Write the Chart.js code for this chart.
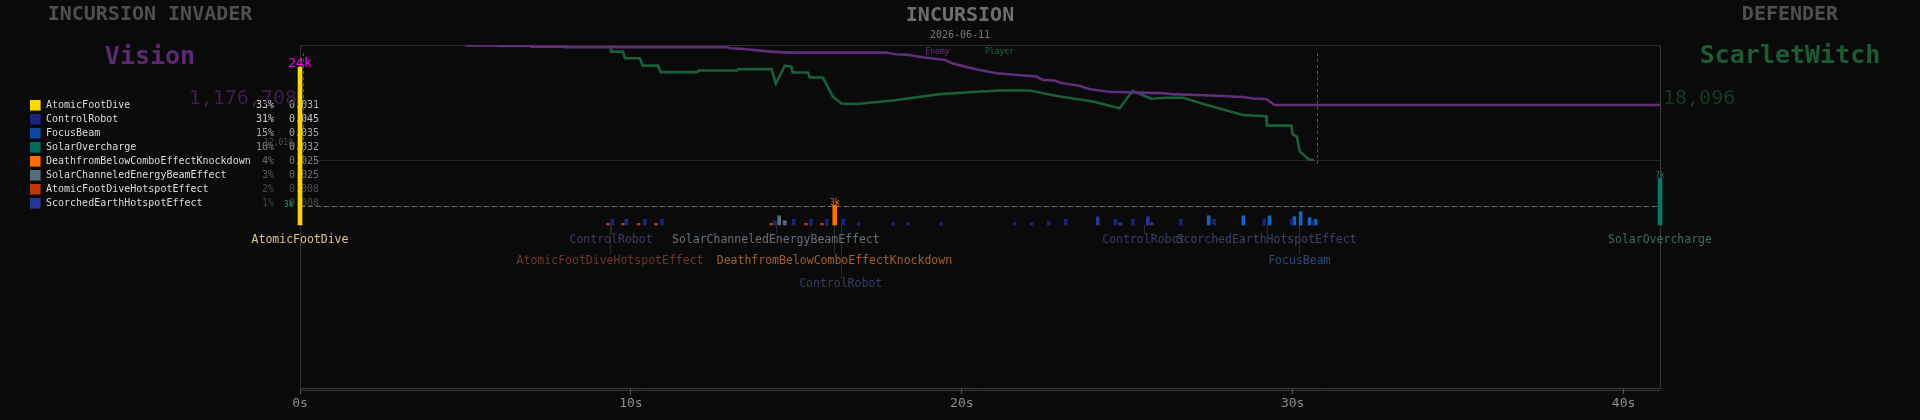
<!DOCTYPE html>
<html>
<head>
<meta charset="utf-8">
<title>Incursion</title>
<script src="https://cdn.jsdelivr.net/npm/chart.js@4.4.1/dist/chart.umd.min.js"></script>
<style>
  html, body { margin: 0; padding: 0; background: #0a0a0a; overflow: hidden; }
  #wrap { width: 1920px; height: 420px; }
</style>
</head>
<body>
<div id="wrap"><canvas id="fight" width="1920" height="420"></canvas></div>
<script>
const MONO = '"DejaVu Sans Mono", "Liberation Mono", monospace';

// health over time, percent of max
const enemyTimes = [5.0, 6.0, 6.0, 7.0, 7.0, 8.0, 8.0, 12.9, 13.0, 13.5, 13.9, 14.25, 14.8, 17.7, 18.0, 18.4, 18.8, 19.5, 19.7, 20.1, 20.5, 21.05, 22.25, 22.45, 22.8, 23.0, 23.55, 23.85, 24.45, 26.0, 26.35, 27.5, 28.5, 28.8, 29.2, 29.45, 41.1];
const enemyHp    = [100, 100, 99.6, 99.6, 99.0, 99.0, 98.4, 98.4, 97.6, 96.7, 95.5, 94.6, 93.8, 93.8, 92.4, 91.8, 89.8, 87.4, 84.6, 81.6, 78.8, 75.9, 73.0, 70.1, 69.5, 67.3, 64.9, 62.1, 59.7, 58.6, 57.7, 56.5, 55.2, 53.9, 53.4, 48.2, 48.2];

const playerTimes = [9.4, 9.4, 9.76, 9.82, 10.27, 10.36, 10.82, 10.9, 12.0, 12.05, 13.2, 13.25, 14.25, 14.38, 14.65, 14.85, 14.89, 15.35, 15.41, 15.8, 16.1, 16.37, 16.82, 17.92, 19.34, 20.44, 21.15, 22.05, 22.96, 23.96, 24.77, 25.16, 25.73, 26.18, 26.68, 27.28, 28.49, 29.2, 29.22, 29.96, 29.99, 30.13, 30.21, 30.49, 30.64];
const playerHp    = [100, 94.6, 94.6, 88.9, 88.9, 82.5, 82.5, 76.8, 76.8, 78.2, 78.2, 79.4, 79.4, 66.7, 82.5, 81.6, 76.5, 76.5, 72.1, 72.1, 55.7, 49.4, 49.1, 52.2, 57.7, 59.7, 60.9, 60.9, 55.7, 51.3, 45.3, 60.6, 53.7, 54.5, 54.5, 49.4, 39.6, 38.4, 30.3, 30.3, 23.1, 20.5, 8.1, 0.6, 0.6];

const enemyTotal = '1,176,708';
const playerTotal = '18,096';
const markerTimes = [0.1, 30.74];
const dmgThreshold = 2850;
const timeTicks = [0, 10, 20, 30, 40];

// ability breakdown table
const abilityNames  = ['AtomicFootDive', 'ControlRobot', 'FocusBeam', 'SolarOvercharge', 'DeathfromBelowComboEffectKnockdown', 'SolarChanneledEnergyBeamEffect', 'AtomicFootDiveHotspotEffect', 'ScorchedEarthHotspotEffect'];
const abilityShares = ['33%', '31%', '15%', '10%', '4%', '3%', '2%', '1%'];
const abilityRates  = ['0.031', '0.045', '0.035', '0.032', '0.025', '0.025', '0.008', '0.008'];

// hits per ability: [seconds, damage]
const atomicFootDiveHits = [[0, 24000]];
const controlRobotHits = [[9.44, 870], [9.86, 870], [10.42, 870], [10.94, 870], [14.35, 650], [14.92, 870], [15.44, 870], [15.92, 870], [16.42, 870], [16.88, 350], [17.92, 350], [18.37, 350], [19.37, 350], [21.6, 350], [22.11, 350], [22.63, 560], [23.14, 870], [24.64, 870], [25.17, 870], [26.62, 870], [27.63, 870], [29.14, 870], [29.97, 870], [30.6, 650]];
const focusBeamHits = [[27.46, 1400], [28.51, 1400], [29.3, 1400], [30.05, 1260], [30.24, 2020], [30.51, 1110], [30.69, 870]];
const solarOverchargeHits = [[41.1, 7100]];
const deathfromBelowHits = [[16.16, 3000]];
const solarChanneledHits = [[14.48, 1400], [14.65, 650]];
const atomicHotspotHits = [[9.31, 260], [9.76, 260], [10.23, 260], [10.76, 260], [14.24, 260], [15.29, 260], [15.77, 260]];
const scorchedEarthHits = [[24.11, 1260], [24.79, 350], [25.62, 1260], [25.74, 350]];

// labels under the hit strip
const hitLabelText  = ['AtomicFootDive', 'ControlRobot', 'SolarChanneledEnergyBeamEffect', 'ControlRobot', 'ScorchedEarthHotspotEffect', 'SolarOvercharge', 'AtomicFootDiveHotspotEffect', 'DeathfromBelowComboEffectKnockdown', 'FocusBeam', 'ControlRobot'];
const hitLabelTimes = [0, 9.4, 14.38, 25.5, 29.21, 41.1, 9.37, 16.15, 30.2, 16.34];
const hitLabelRows  = [0, 0, 0, 0, 0, 0, 1, 1, 1, 2];

// styles
const abilityColors = ['#ffd600', '#1a237e', '#0d47a1', '#00695c', '#ff6d00', '#546e7a', '#bf360c', '#283593'];
const barColors    = ['#ffd600', '#1a237e', '#1565c0', '#00796b', '#ff6d00', '#546e7a', '#bf360c', '#283593'];
const hitLabelColors = ['#d8c78a', '#383c66', '#66707a', '#383c66', '#3c406a', '#3f6b64', '#70382a', '#a0602e', '#2f4a78', '#383c66'];
const shareColors = ['#d4d4d4', '#cfcfcf', '#a6a6a6', '#8a8a8a', '#6a6a6a', '#5c5c5c', '#484848', '#444444'];
const rateColors  = ['#b4b4b4', '#c4c4c4', '#a8a8a8', '#9c9c9c', '#7c7c7c', '#707070', '#505050', '#4a4a4a'];
const rowY = [240, 261.5, 284.3];

const abilityHits = [atomicFootDiveHits, controlRobotHits, focusBeamHits, solarOverchargeHits, deathfromBelowHits, solarChanneledHits, atomicHotspotHits, scorchedEarthHits];

Chart.defaults.font.family = MONO;

const text = (ctx, str, x, y, font, color, align) => {
    ctx.font = font;
    ctx.fillStyle = color;
    ctx.textAlign = align || 'center';
    ctx.textBaseline = 'middle';
    ctx.fillText(str, x, y);
};

const line = (ctx, x1, y1, x2, y2, color, dash) => {
    ctx.beginPath();
    ctx.strokeStyle = color;
    ctx.lineWidth = 1;
    ctx.setLineDash(dash || []);
    ctx.moveTo(x1, y1);
    ctx.lineTo(x2, y2);
    ctx.stroke();
    ctx.setLineDash([]);
};

const decorations = {
    id: 'decorations',
    beforeDatasetsDraw(chart) {
        const { ctx, chartArea: a, scales: { x, yHp, yDmg } } = chart;
        ctx.save();
        // frame
        const top = Math.round(a.top) + 0.5;
        const hpBottom = Math.round(yHp.getPixelForValue(0)) + 0.5;
        line(ctx, a.left, top, a.right, top, '#2c2c2c');
        line(ctx, a.left, hpBottom, a.right, hpBottom, '#242424');
        line(ctx, Math.round(a.left) + 0.5, top, Math.round(a.left) + 0.5, a.bottom, '#333');
        line(ctx, Math.round(a.right) + 0.5, top, Math.round(a.right) + 0.5, a.bottom, '#3a3a3a');
        line(ctx, a.left, Math.round(a.bottom) + 2.5, a.right, Math.round(a.bottom) + 2.5, '#3a3a3a');

        // threshold line in the hit strip
        const ty = Math.round(yDmg.getPixelForValue(dmgThreshold)) + 0.5;
        line(ctx, a.left, ty, a.right - 3, ty, '#707070', [5, 3]);

        // leaders from the hit strip down to the labels
        const base = yDmg.getPixelForValue(0);
        hitLabelText.forEach((t, i) => {
            const px = Math.round(x.getPixelForValue(hitLabelTimes[i])) + 0.5;
            line(ctx, px, base, px, rowY[hitLabelRows[i]] - 7, '#2a2a2a');
        });

        // ability table
        abilityNames.forEach((name, i) => {
            const cy = 105.3 + 14 * i;
            ctx.fillStyle = abilityColors[i];
            ctx.fillRect(30, cy - 5.3, 10.6, 10.6);
            text(ctx, name, 46, cy, '10px ' + MONO, '#dcdcdc', 'left');
            text(ctx, abilityShares[i], 274, cy, '10px ' + MONO, shareColors[i], 'right');
            text(ctx, abilityRates[i], 289, cy, '10px ' + MONO, rateColors[i], 'left');
        });

        // totals
        text(ctx, enemyTotal, 297, 99, '20px ' + MONO, '#3b1f4a', 'right');
        text(ctx, playerTotal, 1663, 99, '20px ' + MONO, '#153a24', 'left');
        text(ctx, '12,018', 293, 143.3, '8px ' + MONO, '#4a4a4a', 'right');
        text(ctx, '3k', 284, 205, '8px ' + MONO, '#1f9a5a', 'left');
        ctx.restore();
    },
    afterDatasetsDraw(chart) {
        const { ctx, scales: { x } } = chart;
        ctx.save();
        // event markers
        markerTimes.forEach(t => {
            const px = Math.round(x.getPixelForValue(t)) + 0.5;
            line(ctx, px, 53, px, 167, '#a41aa4', [3, 3]);
        });

        // values above the big hits
        chart.data.datasets.forEach((ds, di) => {
            if (ds.type !== 'bar') return;
            const meta = chart.getDatasetMeta(di);
            meta.data.forEach((bar, j) => {
                const v = ds.data[j].y;
                if (v < 2500) return;
                const big = v >= 10000;
                text(ctx, Math.round(v / 1000) + 'k', bar.x, bar.y - (big ? 3.5 : 2.8),
                    (big ? '13px ' : '8px ') + MONO, ds.labelColor, 'center');
            });
        });

        // names under the hit strip
        hitLabelText.forEach((t, i) => {
            text(ctx, t, x.getPixelForValue(hitLabelTimes[i]), rowY[hitLabelRows[i]],
                '11.5px ' + MONO, hitLabelColors[i], 'center');
        });

        // headers
        text(ctx, 'INCURSION INVADER', 150, 15, 'bold 20px ' + MONO, '#4f4f4f');
        text(ctx, 'Vision', 150, 57, 'bold 25px ' + MONO, '#5b2a70');
        text(ctx, 'INCURSION', 960, 15.5, 'bold 20px ' + MONO, '#6e6e6e');
        text(ctx, '2026-06-11', 960, 35, '10px ' + MONO, '#7a7a7a');
        text(ctx, 'Enemy', 937.5, 51.7, '8px ' + MONO, '#6a2d80');
        text(ctx, 'Player', 999.5, 51.7, '8px ' + MONO, '#1d6a3a');
        text(ctx, 'DEFENDER', 1790, 15, 'bold 20px ' + MONO, '#4f4f4f');
        text(ctx, 'ScarletWitch', 1790, 56.7, 'bold 25px ' + MONO, '#1b5c35');
        ctx.restore();
    }
};

const hpDatasets = [
    {
        label: 'Enemy',
        data: enemyTimes.map((t, i) => ({ x: t, y: enemyHp[i] })),
        borderColor: '#612d7c',
        borderWidth: 2.6,
        pointRadius: 0,
        tension: 0,
        yAxisID: 'yHp'
    },
    {
        label: 'Player',
        data: playerTimes.map((t, i) => ({ x: t, y: playerHp[i] })),
        borderColor: '#19603a',
        borderWidth: 2.6,
        pointRadius: 0,
        tension: 0,
        yAxisID: 'yHp'
    }
];

const barDatasets = abilityHits.map((hits, i) => ({
    type: 'bar',
    label: abilityNames[i],
    data: hits.map(h => ({ x: h[0], y: h[1] })),
    backgroundColor: barColors[i],
    labelColor: i === 0 ? '#ff00ff' : barColors[i],
    barThickness: hits.some(h => h[1] >= 2500) ? 4 : 3,
    grouped: false,
    clip: false,
    yAxisID: 'yDmg'
}));

new Chart(document.getElementById('fight'), {
    type: 'line',
    data: { datasets: hpDatasets.concat(barDatasets) },
    options: {
        responsive: false,
        animation: false,
        devicePixelRatio: 1,
        layout: { padding: { left: 300, right: 260, top: 45, bottom: 6.4 } },
        plugins: { legend: { display: false }, tooltip: { enabled: false } },
        scales: {
            x: {
                type: 'linear',
                min: 0,
                max: 41.1,
                offset: false,
                afterBuildTicks: s => { s.ticks = timeTicks.map(v => ({ value: v })); },
                ticks: { color: '#8c8c8c', font: { size: 13 }, padding: 2, maxRotation: 0, autoSkip: false, callback: v => v + 's' },
                grid: { drawOnChartArea: false, color: '#5a5a5a', tickLength: 6, offset: false },
                border: { color: '#3a3a3a' }
            },
            yHp: { type: 'linear', display: false, min: -197.8, max: 100.4 },
            yDmg: { type: 'linear', display: false, min: -24776, max: 27360 }
        }
    },
    plugins: [decorations]
});
</script>
</body>
</html>
